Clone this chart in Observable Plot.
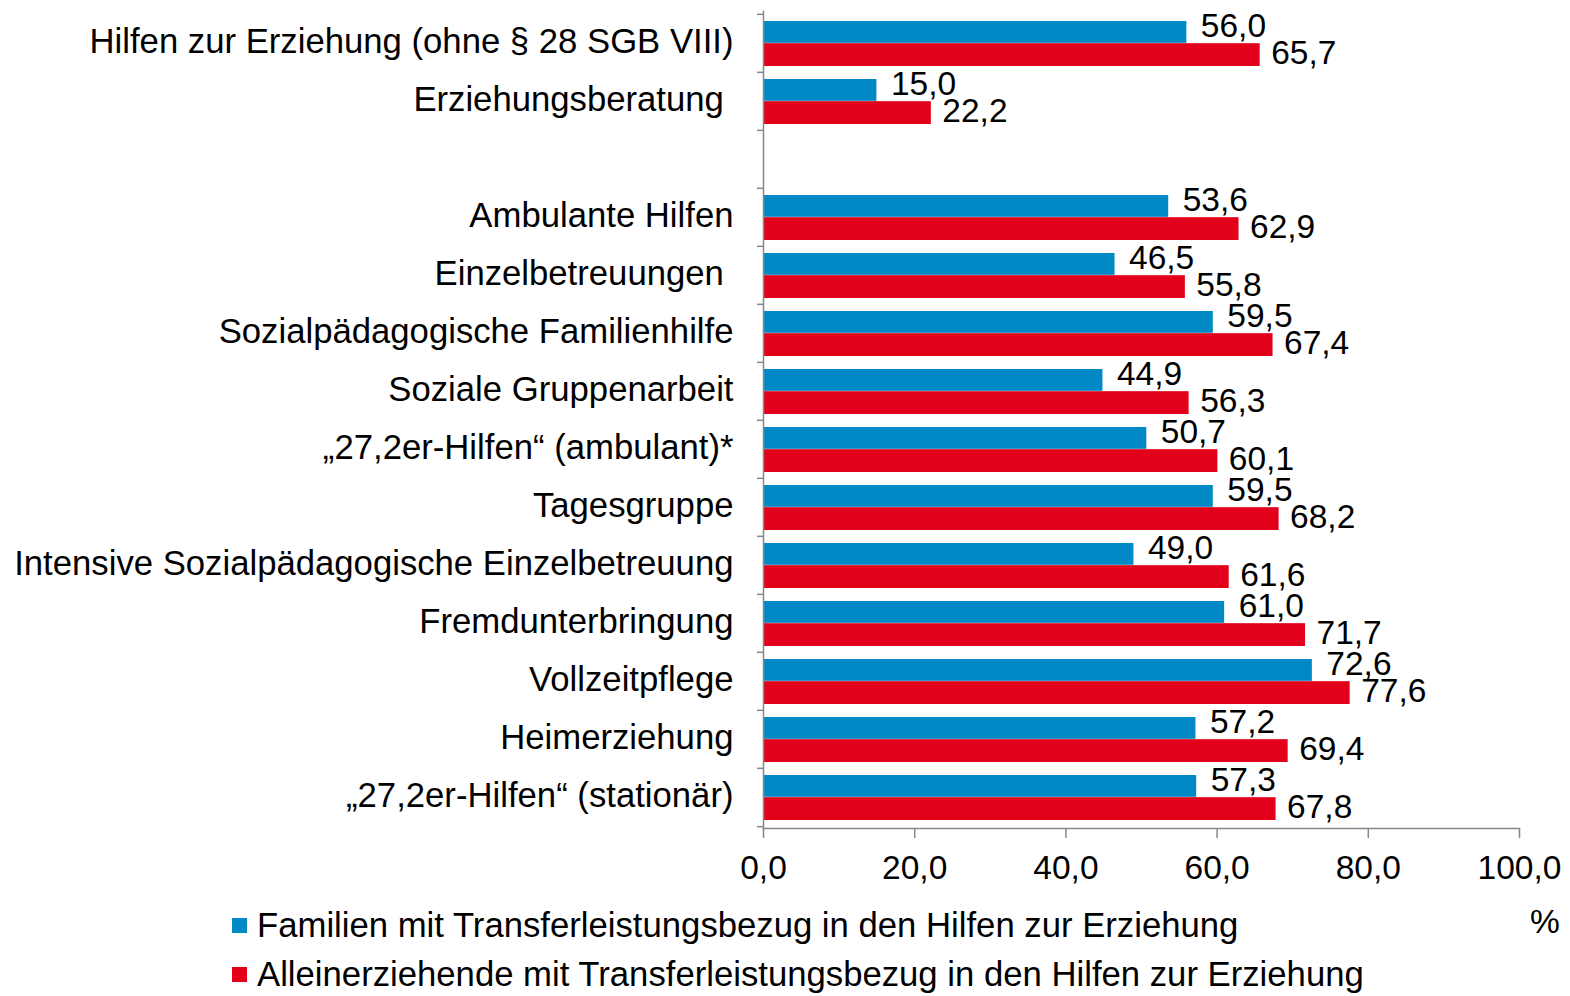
<!DOCTYPE html>
<html>
<head>
<meta charset="utf-8">
<script src="https://cdn.jsdelivr.net/npm/d3@7"></script>
<script src="https://cdn.jsdelivr.net/npm/@observablehq/plot@0.6"></script>
<style>
  html, body { margin: 0; padding: 0; background: #fff; }
  #wrap { position: relative; width: 1570px; height: 996px; font-family: "Liberation Sans", Arial, sans-serif; color: #000; }
  .leg { position: absolute; left: 232px; font-size: 34.7px; line-height: 1; white-space: nowrap; display: flex; align-items: center; }
  .sw { width: 15px; height: 15px; margin-right: 10px; display: inline-block; }
  #pct { position: absolute; left: 1530px; top: 903px; font-size: 33.5px; }
  .ylab text { font-size: 34.7px; }
  .vlab text { font-size: 33.5px; }
</style>
</head>
<body>
<div id="wrap"></div>
<script>
const categories = [
  "Hilfen zur Erziehung (ohne § 28 SGB VIII)",
  "Erziehungsberatung\u00a0",
  " ",
  "Ambulante Hilfen",
  "Einzelbetreuungen\u00a0",
  "Sozialpädagogische Familienhilfe",
  "Soziale Gruppenarbeit",
  "\u201E27,2er-Hilfen\u201C (ambulant)*",
  "Tagesgruppe",
  "Intensive Sozialpädagogische Einzelbetreuung",
  "Fremdunterbringung",
  "Vollzeitpflege",
  "Heimerziehung",
  "\u201E27,2er-Hilfen\u201C (stationär)"
];
const familien = [56.0, 15.0, null, 53.6, 46.5, 59.5, 44.9, 50.7, 59.5, 49.0, 61.0, 72.6, 57.2, 57.3];
const allein   = [65.7, 22.2, null, 62.9, 55.8, 67.4, 56.3, 60.1, 68.2, 61.6, 71.7, 77.6, 69.4, 67.8];
const seriesNames = [
  "Familien mit Transferleistungsbezug in den Hilfen zur Erziehung",
  "Alleinerziehende mit Transferleistungsbezug in den Hilfen zur Erziehung"
];
const xTicks = [0, 20, 40, 60, 80, 100];

const BLUE = "#0089C4", RED = "#E2001A", GRAY = "#878787";
const fmt = v => d3.format(".1f")(v).replace(".", ",");

const rowsF = categories.map((c, i) => ({cat: c, v: familien[i]})).filter(d => d.v != null);
const rowsA = categories.map((c, i) => ({cat: c, v: allein[i]})).filter(d => d.v != null);

const W = 1570, H = 890, mT = 11, mB = 62, mL = 763, mR = 51;
const bw = (H - mT - mB) / categories.length;
const mid = bw / 2;

const chart = Plot.plot({
  width: W, height: H,
  marginTop: mT, marginBottom: mB, marginLeft: mL, marginRight: mR,
  style: {fontFamily: "'Liberation Sans', Arial, sans-serif", fontSize: "33.5px", color: "#000", background: "#fff"},
  x: {domain: [0, 100], label: null},
  y: {domain: categories, padding: 0, label: null},
  marks: [
    Plot.barX(rowsF, {x: "v", y: "cat", fill: BLUE, insetTop: 7, insetBottom: mid}),
    Plot.barX(rowsA, {x: "v", y: "cat", fill: RED, insetTop: mid, insetBottom: 6}),
    Plot.frame({anchor: "left", stroke: GRAY, strokeWidth: 1.5}),
    Plot.frame({anchor: "bottom", stroke: GRAY, strokeWidth: 1.5}),
    Plot.axisY({tickSize: 6, text: null, dy: -mid, stroke: GRAY, strokeWidth: 1.5}),
    Plot.axisY({ticks: [categories[categories.length - 1]], tickSize: 6, text: null, dy: mid, stroke: GRAY, strokeWidth: 1.5}),
    Plot.axisY({tickSize: 0, tickPadding: 30, dy: -2, fill: "#000", label: null, className: "ylab"}),
    Plot.axisX({ticks: xTicks, tickSize: 10, tickPadding: 17, tickFormat: fmt, stroke: GRAY, strokeWidth: 1.5, fill: "#000", label: null}),
    Plot.text(rowsF, {x: "v", y: "cat", text: d => fmt(d.v), textAnchor: "start", dx: 14, dy: -17, fill: "#000", className: "vlab"}),
    Plot.text(rowsA, {x: "v", y: "cat", text: d => fmt(d.v), textAnchor: "start", dx: 11, dy: 10, fill: "#000", className: "vlab"})
  ]
});

const wrap = document.getElementById("wrap");
wrap.appendChild(chart);
const colors = [BLUE, RED];
const tops = [908, 957];
seriesNames.forEach((name, i) => {
  const div = document.createElement("div");
  div.className = "leg";
  div.style.top = tops[i] + "px";
  const sw = document.createElement("span");
  sw.className = "sw";
  sw.style.background = colors[i];
  div.appendChild(sw);
  div.appendChild(document.createTextNode(name));
  wrap.appendChild(div);
});
const pct = document.createElement("div");
pct.id = "pct";
pct.textContent = "%";
wrap.appendChild(pct);
</script>
</body>
</html>
